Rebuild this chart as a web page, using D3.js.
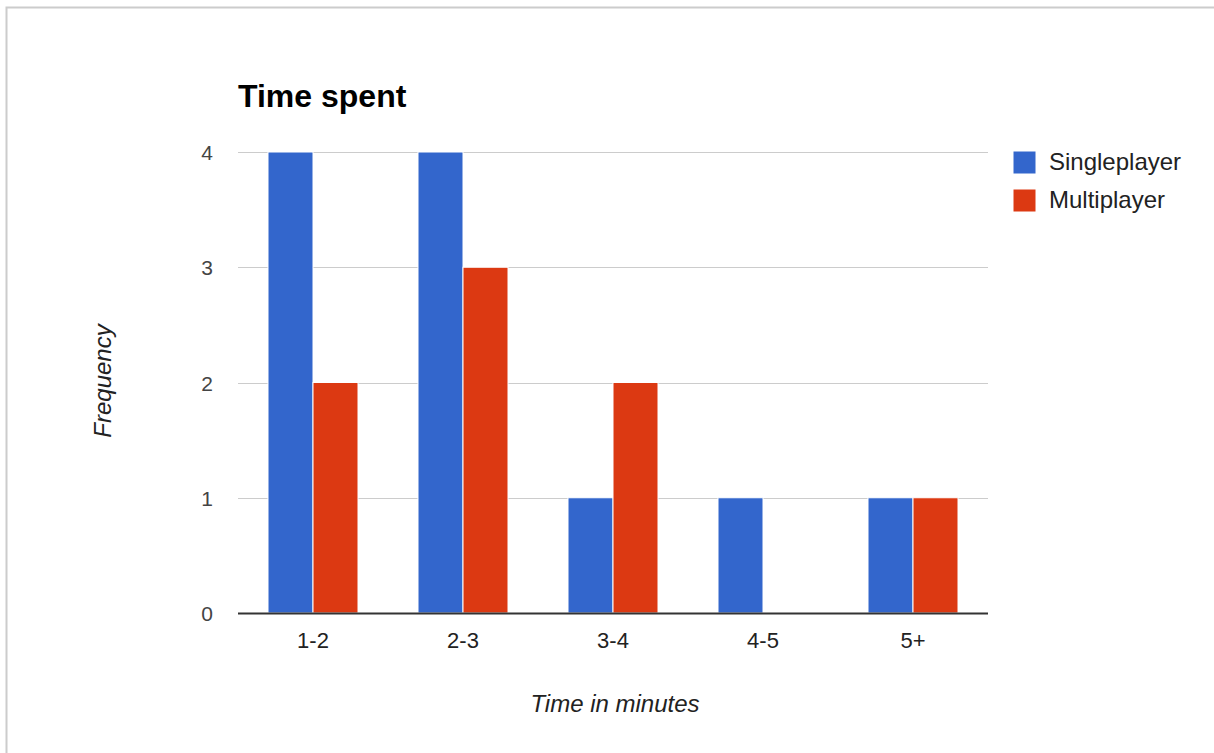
<!DOCTYPE html>
<html>
<head>
<meta charset="utf-8">
<script src="https://cdn.jsdelivr.net/npm/d3@7"></script>
<style>
  html, body { margin: 0; padding: 0; background: #fff; }
  svg { display: block; font-family: Arial, "Liberation Sans", sans-serif; }
</style>
</head>
<body>
<svg id="chart" width="1214" height="753"></svg>
<script>
// Time-spent histogram: singleplayer vs multiplayer session lengths
const categories = ["1-2", "2-3", "3-4", "4-5", "5+"];
const seriesNames = ["Singleplayer", "Multiplayer"];
const singleplayer = [4, 4, 1, 1, 1];
const multiplayer = [2, 3, 2, 0, 1];
const yTicks = [0, 1, 2, 3, 4];
const colors = ["#3366cc", "#dc3912"];

const FONT = "Arial, 'Liberation Sans', sans-serif";
const svg = d3.select("#chart");

// outer frame
svg.append("rect")
  .attr("x", 6.5).attr("y", 7.5)
  .attr("width", 1300).attr("height", 900)
  .attr("fill", "#fff").attr("stroke", "#cccccc").attr("stroke-width", 2);

const plot = { left: 238, right: 988, top: 152, bottom: 613 };

const x = d3.scaleBand().domain(categories)
  .range([plot.left, plot.right]).paddingInner(0.4).paddingOuter(0.2);
const xs = d3.scaleBand().domain(seriesNames)
  .range([0, x.bandwidth()]).padding(0);
const y = d3.scaleLinear().domain([0, 4]).range([plot.bottom, plot.top]);

// gridlines
svg.append("g").selectAll("line").data(yTicks.filter(t => t > 0)).join("line")
  .attr("x1", plot.left).attr("x2", plot.right)
  .attr("y1", d => Math.round(y(d)) + 0.5).attr("y2", d => Math.round(y(d)) + 0.5)
  .attr("stroke", "#cccccc").attr("stroke-width", 1);

// bars
const rows = categories.map((c, i) => ({ cat: c, vals: [singleplayer[i], multiplayer[i]] }));
const groups = svg.append("g").selectAll("g").data(rows).join("g")
  .attr("transform", d => `translate(${x(d.cat)},0)`);
groups.selectAll("rect").data(d => d.vals.map((v, j) => ({ v, name: seriesNames[j], j })))
  .join("rect")
  .filter(d => d.v > 0)
  .attr("x", d => xs(d.name))
  .attr("y", d => y(d.v))
  .attr("width", xs.bandwidth())
  .attr("height", d => y(0) - y(d.v))
  .attr("fill", d => colors[d.j])
  .attr("stroke", "#ffffff").attr("stroke-width", 1);

// baseline
svg.append("line")
  .attr("x1", plot.left).attr("x2", plot.right)
  .attr("y1", plot.bottom + 0.5).attr("y2", plot.bottom + 0.5)
  .attr("stroke", "#333333").attr("stroke-width", 2);

// y axis labels
const yAxis = d3.axisLeft(y).tickValues(yTicks).tickSize(0).tickPadding(0).tickFormat(d3.format("d"));
const yg = svg.append("g").attr("transform", `translate(${plot.left - 25},0)`).call(yAxis)
  .attr("font-size", 21).attr("font-family", FONT);
yg.select(".domain").remove();
yg.selectAll("text").attr("fill", "#444").attr("dy", "0.36em");

// x axis labels
const xAxis = d3.axisBottom(x).tickSize(0).tickPadding(0);
const xg = svg.append("g").attr("transform", `translate(0,${plot.bottom + 19})`).call(xAxis)
  .attr("font-size", 22).attr("font-family", FONT);
xg.select(".domain").remove();
xg.selectAll("text").attr("fill", "#222");

// title
svg.append("text").attr("x", plot.left).attr("y", 107)
  .attr("font-size", 32).attr("font-weight", "bold").attr("fill", "#000")
  .text("Time spent");

// axis titles
svg.append("text")
  .attr("x", 615).attr("y", 712)
  .attr("text-anchor", "middle").attr("font-size", 24).attr("font-style", "italic").attr("fill", "#222")
  .text("Time in minutes");
svg.append("text")
  .attr("transform", `translate(111,381) rotate(-90)`)
  .attr("text-anchor", "middle").attr("font-size", 24).attr("font-style", "italic").attr("fill", "#222")
  .text("Frequency");

// legend
const legend = svg.append("g").attr("transform", "translate(1013,151)");
const li = legend.selectAll("g").data(seriesNames).join("g")
  .attr("transform", (d, i) => `translate(0,${i * 38})`);
li.append("rect").attr("width", 23).attr("height", 23)
  .attr("fill", (d, i) => colors[i]).attr("stroke", "#fff").attr("stroke-width", 1);
li.append("text").attr("x", 36).attr("y", 19)
  .attr("font-size", 24).attr("fill", "#222").text(d => d);
</script>
</body>
</html>
